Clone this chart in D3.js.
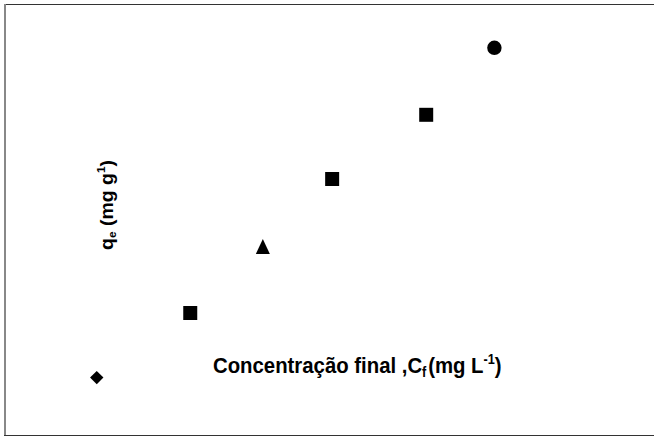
<!DOCTYPE html>
<html>
<head>
<meta charset="utf-8">
<script src="https://cdn.jsdelivr.net/npm/d3@7"></script>
<style>
  body { margin: 0; background: #fff; }
  svg { display: block; }
  .lbl { font-family: "Liberation Sans", Arial, sans-serif; font-weight: bold; fill: #000; }
</style>
</head>
<body>
<div id="chart"></div>
<script>
var svgWidth = 654;
var svgHeight = 437;

// values (no axes shown in the original)
var concentracao = [8.5, 25.5, 38.7, 51.3, 68.4, 80.8];
var qe = [10.6, 26.75, 43.4, 60.25, 76.3, 93.05];
var simbolos = ["diamond", "square", "triangle", "square", "square", "circle"];

var svg = d3.select("#chart")
  .append("svg")
  .attr("width", svgWidth)
  .attr("height", svgHeight);

var xScale = d3.scaleLinear().domain([0, 100]).range([50, 600]);
var yScale = d3.scaleLinear().domain([0, 100]).range([420, 20]);

// frame
svg.append("line").attr("x1", 4).attr("x2", 660).attr("y1", 4.5).attr("y2", 4.5)
  .attr("stroke", "#333").attr("stroke-width", 1.2);
svg.append("line").attr("x1", 5).attr("x2", 5).attr("y1", 4).attr("y2", 436)
  .attr("stroke", "#888").attr("stroke-width", 2);
svg.append("line").attr("x1", 4).attr("x2", 660).attr("y1", 435.5).attr("y2", 435.5)
  .attr("stroke", "#333").attr("stroke-width", 1.2);

var tallTriangle = {
  draw: function(ctx, size) {
    var w = 7, h = 7.5;
    ctx.moveTo(0, -h);
    ctx.lineTo(w, h);
    ctx.lineTo(-w, h);
    ctx.closePath();
  }
};

function symbolPath(s) {
  if (s === "square") return d3.symbol(d3.symbolSquare, 196)();
  if (s === "diamond") return d3.symbol(d3.symbolSquare, 90)();
  if (s === "circle") return d3.symbol(d3.symbolCircle, Math.PI * 7.2 * 7.2)();
  return d3.symbol(tallTriangle, 1)();
}

var pontos = concentracao.map((c, i) => ({ x: c, y: qe[i], s: simbolos[i] }));

svg.selectAll("path.pt")
  .data(pontos)
  .enter()
  .append("path")
  .classed("pt", true)
  .attr("d", d => symbolPath(d.s))
  .attr("transform", d => `translate(${xScale(d.x)},${yScale(d.y)})` + (d.s === "diamond" ? " rotate(45)" : ""))
  .attr("fill", "#000");

// x label (squeezed to the width seen in the picture)
var xl = svg.append("text")
  .classed("lbl", true)
  .attr("font-size", 22.5);
xl.append("tspan").text("Concentração final ,C");
xl.append("tspan").attr("font-size", 14).attr("dy", 4).text("f");
xl.append("tspan").attr("dy", -4).attr("dx", 2).text("(mg L");
xl.append("tspan").attr("font-size", 14).attr("dy", -9).text("-1");
xl.append("tspan").attr("dy", 9).text(")");
var xlLen = xl.node().getComputedTextLength();
xl.attr("transform", `translate(213,373) scale(${287 / xlLen},1)`);

// y label
var yl = svg.append("text")
  .classed("lbl", true)
  .attr("text-anchor", "middle")
  .attr("font-size", 18);
yl.append("tspan").text("q");
yl.append("tspan").attr("font-size", 11).attr("dy", 3).text("e");
yl.append("tspan").attr("dy", -3).text(" (mg g");
yl.append("tspan").attr("font-size", 11).attr("dy", -8).text("1");
yl.append("tspan").attr("dy", 8).text(")");
var ylLen = yl.node().getComputedTextLength();
yl.attr("transform", `translate(112.5,205) rotate(-90) scale(${90 / ylLen},1)`);
</script>
</body>
</html>
